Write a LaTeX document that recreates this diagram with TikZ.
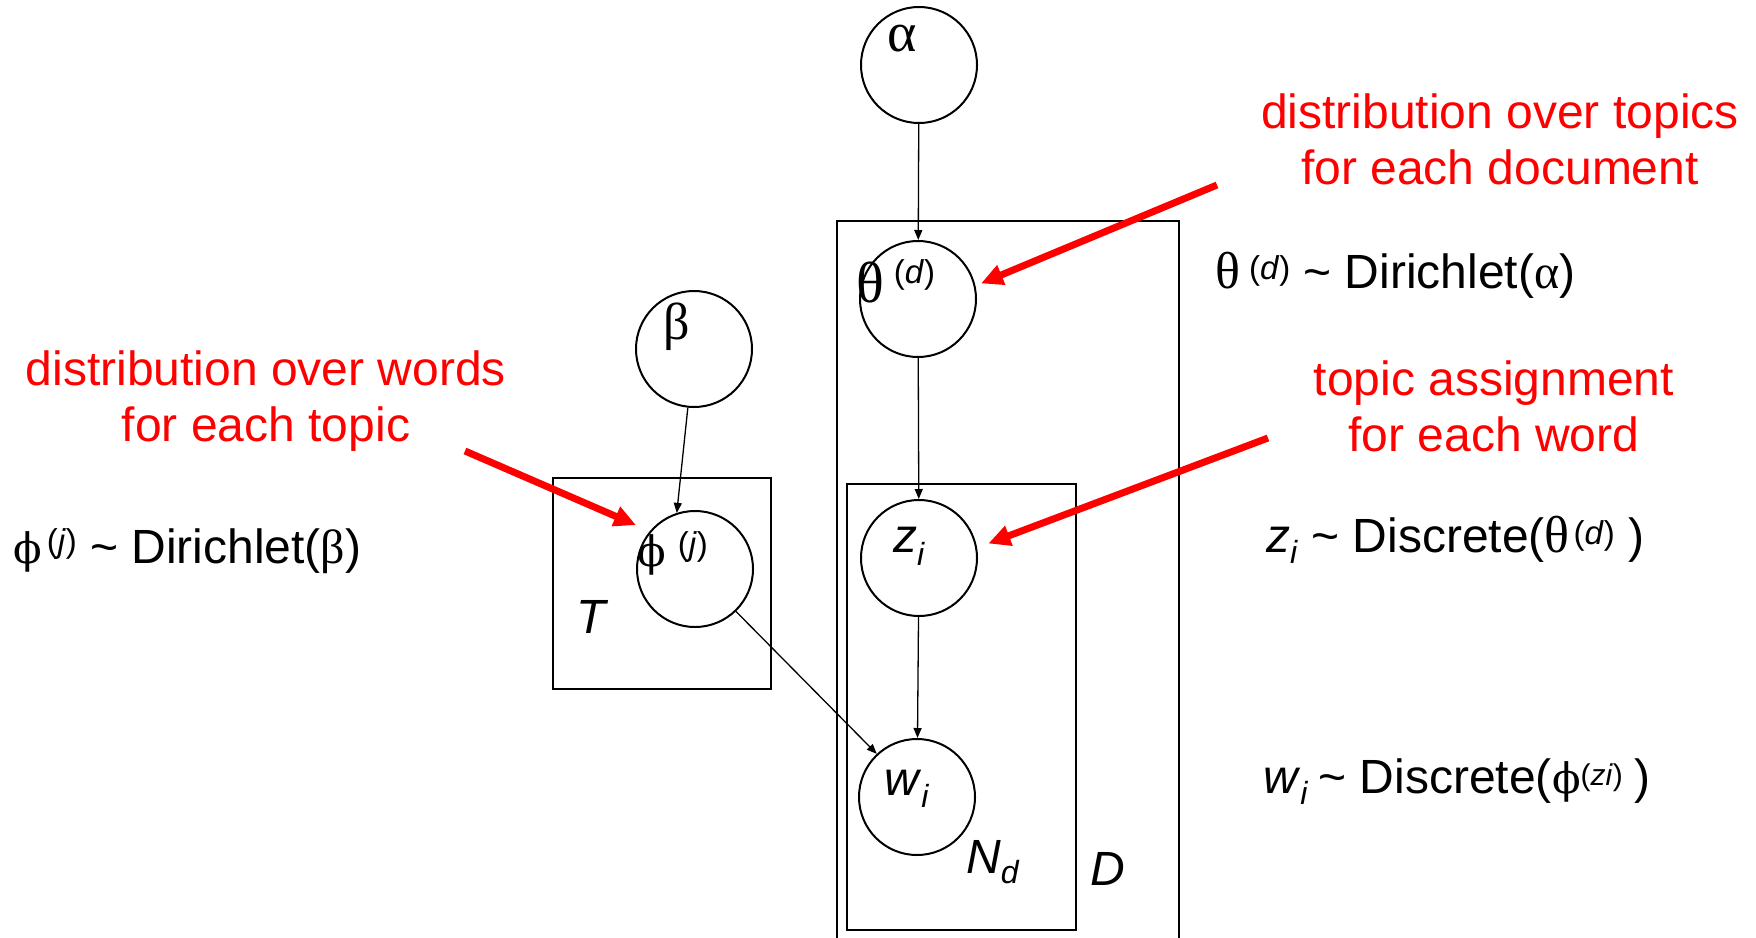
\documentclass[tikz,border=0pt]{standalone}
\usepackage{fontspec}
\setmainfont{Liberation Sans}
\newfontfamily\gk{Liberation Serif}
\newfontfamily\gkphi{DejaVu Serif}
\usetikzlibrary{arrows.meta}
\newcommand{\supx}[2]{\raisebox{#1}{\fontsize{33}{33}\selectfont #2}}
\newcommand{\subx}[2]{\raisebox{-#1}{\fontsize{32}{32}\selectfont\textit{#2}}}
\newcommand{\gph}{{\fontsize{42}{42}\selectfont\gkphi ϕ}}
\tikzset{
  var/.style={circle, draw, line width=2pt, inner sep=0pt, minimum size=116pt},
  plate/.style={rectangle, draw, line width=2pt, inner sep=0pt, anchor=north west},
  lbl/.style={inner sep=0pt, font=\fontsize{48}{56}\selectfont},
  note/.style={inner sep=0pt, text=red, align=center, font=\fontsize{48}{56}\selectfont},
  dep/.style={line width=1.3pt, -{Triangle[length=10pt,width=8pt]}},
  callout/.style={red, line width=7pt, -{Triangle[length=22pt,width=20pt]}},
}
\begin{document}
\begin{tikzpicture}[x={(1pt,0pt)}, y={(0pt,-1pt)}]
\useasboundingbox (0,0) rectangle (1756,937);
\clip (0,0) rectangle (1756,937);
% plates
\node[plate, minimum width=342pt, minimum height=760pt] (Dplate) at (836,220) {};
\node[plate, minimum width=229pt, minimum height=446pt] (Nplate) at (846,483) {};
\node[plate, minimum width=218pt, minimum height=211pt] (Tplate) at (552,477) {};
% variables
\node[var] (alpha) at (919,65) {};
\node[var] (theta) at (918,299) {};
\node[var] (beta) at (694,349) {};
\node[var] (phi) at (695,569) {};
\node[var] (z) at (919,558) {};
\node[var] (w) at (917,797) {};
% labels in circles
\node[lbl, anchor=base, font=\fontsize{56}{56}\selectfont] (alab) at (902,51) {\gk α};
\node[lbl, anchor=base, font=\fontsize{52}{56}\selectfont] (blab) at (677,339) {\gk β};
\node[lbl, anchor=base west] (tlab) at (856,302) {{\fontsize{58}{58}\selectfont\gk θ}\hspace{10pt}\supx{19pt}{(\textit{d})}};
\node[lbl, anchor=base west] (plab) at (637,566) {\gph\hspace{12pt}\supx{11pt}{(\textit{j})}};
\node[lbl, anchor=base west] (zlab) at (893,552) {\textit{z}\subx{13pt}{i}};
\node[lbl, anchor=base west] (wlab) at (884,795) {\textit{w}\subx{12pt}{i}};
\node[lbl, anchor=base west] (nlab) at (966,873) {\textit{N}\subx{10pt}{d}};
\node[lbl, anchor=base west] (dlab) at (1090,885) {\textit{D}};
\node[lbl, anchor=base west] (tlabel) at (576,633) {\textit{T}};
% equations
\node[lbl, anchor=base west] (eqtheta) at (1215,288) {{\fontsize{52}{52}\selectfont\gk θ}\hspace{9pt}\supx{9pt}{(\textit{d})} \textasciitilde{} Dirichlet({\gk α})};
\node[lbl, anchor=base west] (eqz) at (1266,552) {\textit{z}\subx{11pt}{i} \textasciitilde{} Discrete({\fontsize{52}{52}\selectfont\gk θ}\hspace{4pt}\supx{8pt}{(\textit{d})} )};
\node[lbl, anchor=base west] (eqw) at (1263,793) {\textit{w}\subx{11pt}{i}\hspace{-3pt} \textasciitilde{} Discrete(\gph\supx{8pt}{\fontsize{30}{30}\selectfont(\textit{zi})}\hspace{-2pt} )};
\node[lbl, anchor=base west] (eqphi) at (13,563) {\gph\hspace{5pt}\supx{11pt}{(\textit{j})} \textasciitilde{} Dirichlet({\gk β})};
% red notes
\node[note, anchor=north] (n1) at (1500,94) {distribution over topics\\for each document};
\node[note, anchor=north] (n2) at (266,351) {distribution over words\\for each topic};
\node[note, anchor=north] (n3) at (1494,361) {topic assignment\\for each word};
% connectors
\draw[dep] (alpha) -- (theta);
\draw[dep] (theta) -- (z);
\draw[dep] (z) -- (w);
\draw[dep] (beta.264) -- (phi.108);
\draw[dep] (phi.314) -- (w.133);
% callouts
\coordinate (c1) at (1217,185);
\coordinate (c2) at (1268,438);
\coordinate (c3) at (465,451);
\draw[callout, shorten >=6pt] (c1) -- (theta.13);
\draw[callout, shorten >=12pt] (c2) -- (z.10);
\draw[callout, shorten >=15pt] (c3) -- (phi.140);
\end{tikzpicture}
\end{document}
